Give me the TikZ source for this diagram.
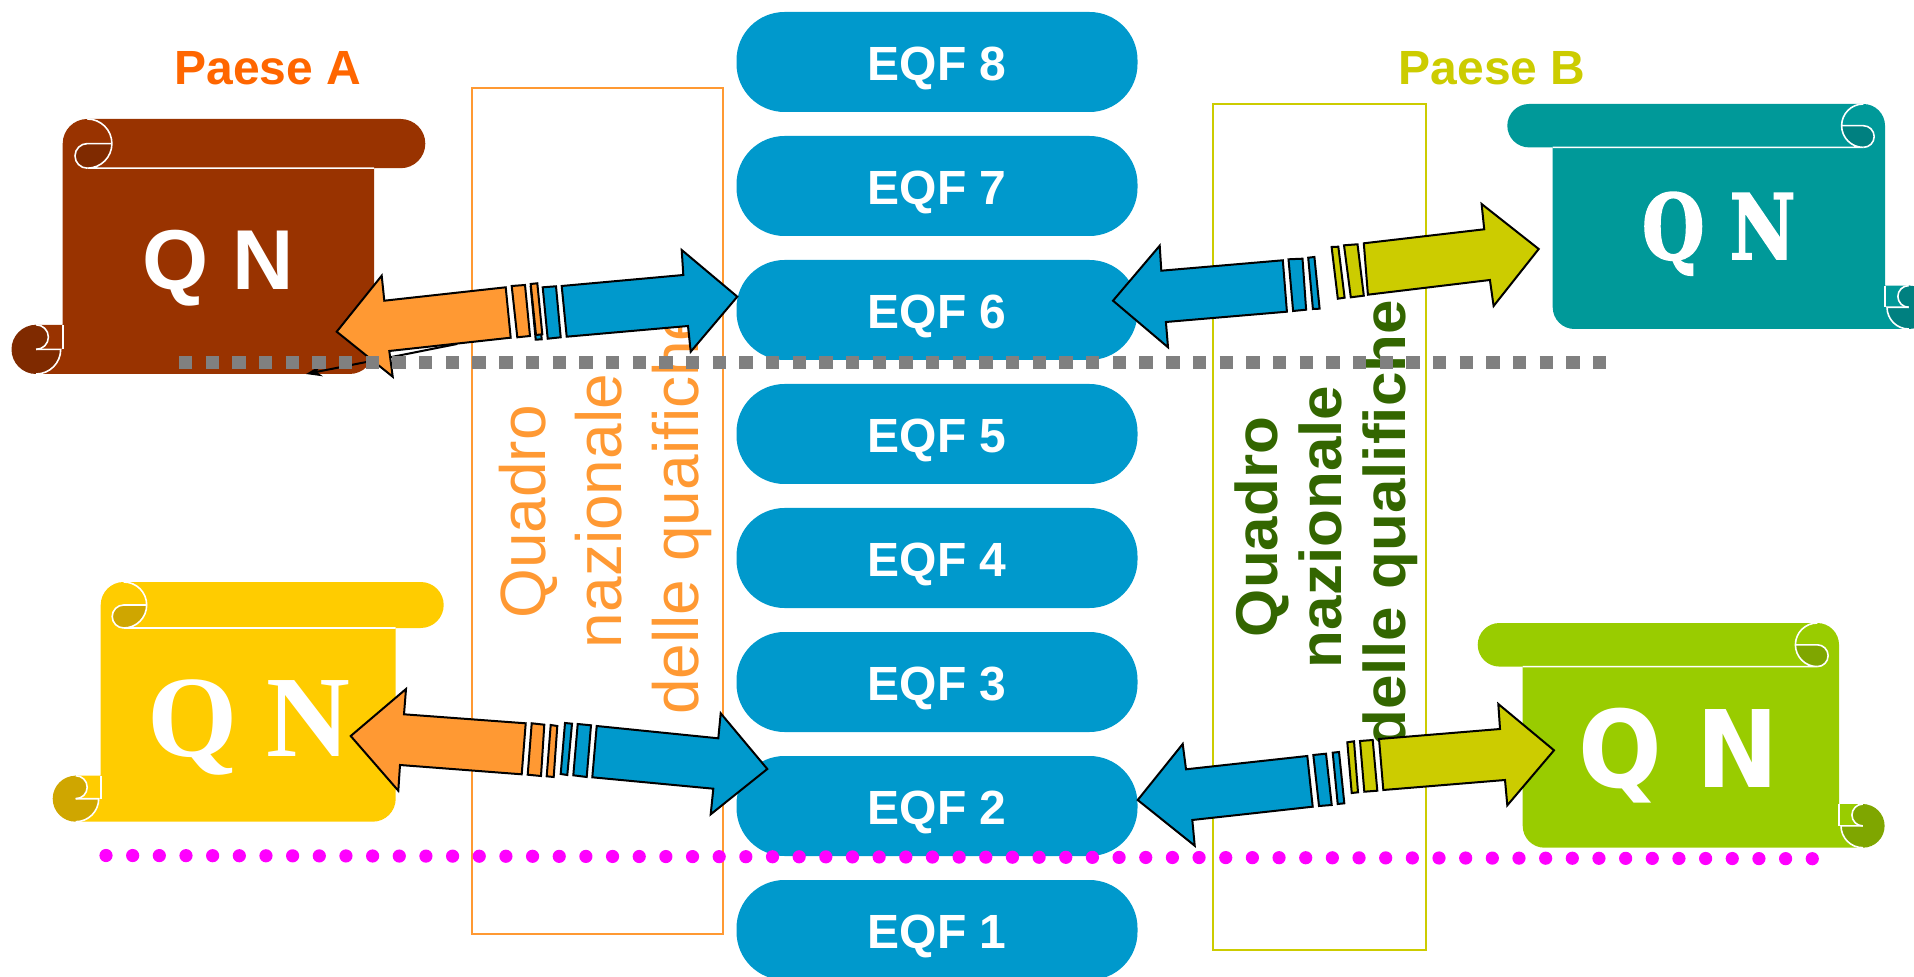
\documentclass[tikz,border=0pt]{standalone}
\usepackage{fontspec}
\usetikzlibrary{arrows.meta}
\setmainfont{Liberation Sans}
\newfontfamily\qnserif{Liberation Serif}
\newfontfamily\qnslab[BoldFeatures={FakeBold=2}]{DejaVu Serif}
\newfontfamily\qnvera{DejaVu Sans}
\newfontfamily\qnwide[BoldFeatures={FakeStretch=1.05}]{Liberation Sans}

\definecolor{eqfblue}{HTML}{0099CC}
\definecolor{partorange}{HTML}{FF9933}
\definecolor{partolive}{HTML}{CCCC00}
\definecolor{textgreen}{HTML}{336600}
\definecolor{titleorange}{HTML}{FF6600}
\definecolor{lineMagenta}{HTML}{FF00FF}
\definecolor{lineGrey}{HTML}{808080}
\definecolor{scrollbrown}{HTML}{993300}
\definecolor{darkbrown}{HTML}{7F2A00}
\definecolor{scrollyellow}{HTML}{FFCC00}
\definecolor{darkyellow}{HTML}{CFA600}
\definecolor{scrollteal}{HTML}{009999}
\definecolor{darkteal}{HTML}{008080}
\definecolor{scrollgreen}{HTML}{99CC00}
\definecolor{darkgreen}{HTML}{7FA600}

% #1 scope options, #2 band width, #3 body width, #4 height, #5 radius, #6 colour, #7 dark colour
\newcommand{\qnscroll}[7]{%
\begin{scope}[#1]
\fill[#6] (#5,0) -- ({#2-#5},0) arc[start angle=-90,end angle=90,radius=#5] -- (#3,{2*#5})
  -- (#3,{#4-#5}) arc[start angle=0,end angle=90,radius=#5] -- ({-#5-2},#4)
  -- ({-#5-2},{#4-2*#5}) -- (0,{#4-2*#5}) -- (0,#5) arc[start angle=180,end angle=270,radius=#5] -- cycle;
\fill[#7] ({-#5-2},{#4-#5}) circle (#5);
\fill[#6] ({-#5-2},{#4-2*#5}) rectangle (0,{#4-#5});
\fill[#7] ({-#5-2},{#4-1.5*#5}) circle ({#5/2});
\fill[#7] (#5,#5) -- ({2*#5},#5) arc[start angle=0,end angle=90,radius=#5] arc[start angle=90,end angle=270,radius={#5/2}] -- cycle;
\draw[scrollline] (0,{#4-2*#5}) -- (0,{#4-#5});
\draw[scrollline] ({-#5-2},{#4-#5}) -- (-2,{#4-#5}) arc[start angle=0,end angle=90,radius=#5];
\draw[scrollline] ({-#5-2},{#4-#5}) arc[start angle=90,end angle=-90,radius={#5/2}];
\draw[scrollline] (#5,0) arc[start angle=-90,end angle=90,radius=#5] -- (#3,{2*#5});
\draw[scrollline] ({2*#5},#5) -- (#5,#5) arc[start angle=270,end angle=90,radius={#5/2}];
\end{scope}}

\begin{document}
\begin{tikzpicture}[x=0.5pt,y=-0.5pt]
\tikzstyle{eqf}=[shape=rectangle,rounded corners=24pt,fill=eqfblue,text=white,minimum width=200.5pt,minimum height=50pt,
  inner sep=0pt,font=\bfseries\fontsize{24}{24}\selectfont,text height=18.8pt,text depth=0pt,node distance=62pt]
\tikzstyle{frame}=[shape=rectangle,line width=1pt,inner sep=0pt]
\tikzstyle{paese}=[anchor=base,inner sep=0pt,font=\bfseries\fontsize{24}{24}\selectfont]
\tikzstyle{qn}=[anchor=base,inner sep=0pt,text=white]
\tikzstyle{linea}=[rotate=90,anchor=base,inner sep=0pt,text=partorange,font=\fontsize{32}{32}\selectfont]
\tikzstyle{lineb}=[rotate=90,anchor=base,inner sep=0pt,text=textgreen,font=\qnwide\bfseries\fontsize{29.5}{29.5}\selectfont]
\tikzstyle{scrollline}=[draw=white,line width=0.8pt]
\tikzstyle{orangepart}=[draw=black,fill=partorange,line width=1pt,line join=miter]
\tikzstyle{bluepart}=[draw=black,fill=eqfblue,line width=1pt,line join=miter]
\tikzstyle{olivepart}=[draw=black,fill=partolive,line width=1pt,line join=miter]

\path[use as bounding box,clip] (0,0) rectangle (1914,977);

% levels
\node[eqf] (eqf8) at (937,62) {EQF 8};
\node[eqf, below of = eqf8] (eqf7) {EQF 7};
\node[eqf, below of = eqf7] (eqf6) {EQF 6};
\node[eqf, below of = eqf6] (eqf5) {EQF 5};
\node[eqf, below of = eqf5] (eqf4) {EQF 4};
\node[eqf, below of = eqf4] (eqf3) {EQF 3};
\node[eqf, below of = eqf3] (eqf2) {EQF 2};
\node[eqf, below of = eqf2] (eqf1) {EQF 1};

% frames
\node[frame,draw=partorange,minimum width=125.5pt,minimum height=423pt] (framea) at (597.5,511) {};
\node[frame,draw=partolive,minimum width=106.5pt,minimum height=423pt] (frameb) at (1319.5,527) {};

\node[linea] (linea1) at (545,512) {Quadro};
\node[linea] (linea2) at (621.7,511) {nazionale};
\node[linea] (linea3) at (698.3,510) {delle quaifiche};
\node[lineb] (lineb1) at (1277.3,527) {Quadro};
\node[lineb] (lineb2) at (1341.7,527) {nazionale};
\node[lineb] (lineb3) at (1405,524) {delle qualifiche};

% titles
\node[paese,text=titleorange] (paesea) at (268,85) {Paese A};
\node[paese,text=partolive] (paeseb) at (1492,85) {Paese B};

% scrolls
\qnscroll{shift={(62.7,119)}}{362.6}{311.3}{255}{24.6}{scrollbrown}{darkbrown}
\qnscroll{shift={(100.7,582)}}{343}{295}{239.7}{23}{scrollyellow}{darkyellow}
\qnscroll{shift={(1885,104)},xscale=-1}{377.7}{332.3}{225}{21.7}{scrollteal}{darkteal}
\qnscroll{shift={(1839,623)},xscale=-1}{361.3}{316.3}{224.7}{21.8}{scrollgreen}{darkgreen}

\node[qn,font=\bfseries\fontsize{42.5}{42.5}\selectfont] (qna) at (218,290) {Q N};
\node[qn,font=\qnserif\bfseries\fontsize{58}{58}\selectfont] (qnc) at (249,756.7) {Q N};
\node[qn,xscale=0.8,font=\qnslab\bfseries\fontsize{45}{45}\selectfont] (qnb) at (1718.7,259) {Q N};
\node[qn,xscale=0.92,font=\qnvera\bfseries\fontsize{53.5}{53.5}\selectfont] (qnd) at (1678.7,787.7) {Q N};

% thin arrow under the top left one
\coordinate (thina) at (457,344);
\coordinate (thinb) at (306,374);
\draw[-{Stealth[length=8pt,width=5.5pt]},line width=1pt] (thina) -- (thinb);

% top left
\draw[orangepart] (336.7,331.7) -- (381.7,275.7) -- (384.3,300.7) -- (505.7,287.3) -- (510.7,337.7) -- (389.3,351) -- (392.7,376.7) -- cycle;
\draw[orangepart] (511.7,286) -- (525,285) -- (530,336) -- (517.3,337.3) -- cycle;
\draw[bluepart] (530.7,286.7) -- (536.7,286) -- (541.7,339.3) -- (535.7,339.7) -- cycle;
\draw[orangepart] (530.7,284) -- (537.3,283.3) -- (542.3,334.3) -- (536,335) -- cycle;
\draw[bluepart] (542.7,287.3) -- (556,286.3) -- (560.7,337.3) -- (547.7,338.7) -- cycle;
\draw[bluepart] (561.7,286) -- (683.3,275) -- (681.7,250) -- (737.3,296.7) -- (690.7,351.7) -- (688,326) -- (566.7,336.7) -- cycle;

% top right
\draw[bluepart] (1113,300.7) -- (1159.7,245.7) -- (1161.3,270.7) -- (1282.8,260.3) -- (1286.9,311.7) -- (1165.9,322) -- (1168,347.3) -- cycle;
\draw[bluepart] (1288.5,259.3) -- (1302.5,258.7) -- (1306.1,309.7) -- (1293.1,311) -- cycle;
\draw[bluepart] (1308.2,257.7) -- (1314.4,257) -- (1319.6,308.7) -- (1312.9,309) -- cycle;
\draw[olivepart] (1331.6,247) -- (1338.3,246.7) -- (1344.6,297.7) -- (1337.8,298.7) -- cycle;
\draw[olivepart] (1344,245.3) -- (1357.5,244.3) -- (1363.8,295.7) -- (1350.8,297.3) -- cycle;
\draw[olivepart] (1363.8,243.3) -- (1484.2,229.3) -- (1481.6,204) -- (1538.7,249) -- (1493.6,306) -- (1489.9,280) -- (1367.9,294.7) -- cycle;

% bottom left
\draw[orangepart] (350.7,736) -- (406,689) -- (404,714.3) -- (525.7,723.3) -- (521.7,774.3) -- (400,765) -- (398.3,790.7) -- cycle;
\draw[orangepart] (531.7,723.3) -- (544.3,724.7) -- (541,776) -- (527.7,774.7) -- cycle;
\draw[orangepart] (550.7,725) -- (557.3,726) -- (553.7,777) -- (546.7,776.3) -- cycle;
\draw[bluepart] (565,723) -- (572,723.7) -- (567.3,775) -- (560.7,774) -- cycle;
\draw[bluepart] (577.7,724) -- (591,725.3) -- (586.7,777) -- (573.3,775.3) -- cycle;
\draw[bluepart] (596.7,726) -- (718.3,738.3) -- (720.7,713.3) -- (767.3,769) -- (710.7,814.3) -- (713.3,788.7) -- (592.3,777.3) -- cycle;

% bottom right
\draw[bluepart] (1137.7,800) -- (1182.7,744) -- (1186,769.3) -- (1307.3,756) -- (1312.7,806.7) -- (1192.3,820) -- (1194.7,845.7) -- cycle;
\draw[bluepart] (1313.3,755) -- (1326,753.7) -- (1331.7,805) -- (1319,806) -- cycle;
\draw[bluepart] (1332.7,752.7) -- (1339,752) -- (1344.3,803.3) -- (1337.7,804) -- cycle;
\draw[olivepart] (1347.3,742.3) -- (1354,741.3) -- (1358,792.3) -- (1351.7,793) -- cycle;
\draw[olivepart] (1360,741) -- (1372.7,740) -- (1377.3,790.7) -- (1364.3,791.7) -- cycle;
\draw[olivepart] (1379,739) -- (1500,729) -- (1498.3,704) -- (1554,750.3) -- (1507.3,805.3) -- (1505,780) -- (1383.3,790) -- cycle;

% level lines
\coordinate (greya) at (179,362.3);
\coordinate (greyb) at (1607,362.3);
\coordinate (dota) at (106,855.5);
\coordinate (dotb) at (1815,858.7);
\draw[lineGrey,line width=6.67pt,dash pattern=on 6.67pt off 6.67pt] (greya) -- (greyb);
\draw[lineMagenta,line width=6.6pt,line cap=round,dash pattern=on 0pt off 13.33pt] (dota) -- (dotb);
\end{tikzpicture}
\end{document}
